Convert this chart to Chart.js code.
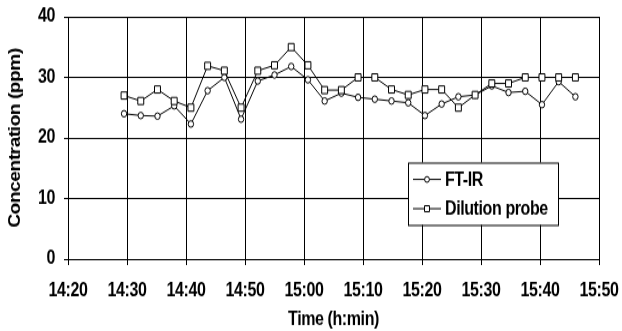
<!DOCTYPE html>
<html><head><meta charset="utf-8">
<script src="https://cdn.jsdelivr.net/npm/chart.js@4/dist/chart.umd.min.js"></script>
<style>
html,body{margin:0;padding:0;background:#fff;overflow:hidden}
#wrap{width:622px;height:331px;overflow:hidden;background:#fff}
#c{display:block;transform-origin:0 0;transform:scaleY(1.1993)}
</style></head><body>
<div id="wrap"><canvas id="c" width="622" height="276" style="width:622px;height:276px"></canvas></div>
<script>
// Sample times (h:mm:ss)
const times = ['14:29:30','14:32:20','14:35:10','14:38:00','14:40:50','14:43:40','14:46:30','14:49:20','14:52:10','14:55:00',
               '14:57:50','15:00:40','15:03:30','15:06:20','15:09:10','15:12:00','15:14:50','15:17:40','15:20:30','15:23:20',
               '15:26:10','15:29:00','15:31:50','15:34:40','15:37:30','15:40:20','15:43:10','15:46:00'];
// Concentration (ppm)
const ftir     = [24.0,23.7,23.6,25.3,22.3,27.8,30.0,23.1,29.4,30.4,
                  31.8,29.6,26.1,27.4,26.7,26.4,26.1,25.8,23.7,25.6,
                  26.8,27.1,28.6,27.5,27.7,25.5,29.3,26.8];
const dilution = [27.0,26.1,28.0,26.1,25.0,31.9,31.1,25.0,31.1,32.0,
                  35.0,32.0,27.9,27.9,30.0,30.0,28.0,27.1,28.0,28.0,
                  25.0,27.1,29.0,29.0,30.0,30.0,30.0,30.0];
const xRange = ['14:20','15:50'];
const xStepMin = 10;
const yRange = [0,40];
const yStep = 10;
const seriesNames = ['FT-IR','Dilution probe'];
const xTitle = 'Time (h:min)';
const yTitle = 'Concentration (ppm)';

const toMin = s => { const p = s.split(':').map(Number); return p[0]*60 + p[1] + (p[2]||0)/60; };
const fmt = v => { const h = Math.floor(v/60), m = Math.round(v - h*60); return h + ':' + String(m).padStart(2,'0'); };
const FONT = '"Liberation Sans", Arial, sans-serif';

const tightText = {
  id: 'tightText',
  beforeDraw(chart) { try { chart.ctx.letterSpacing = '-0.4px'; } catch(e) {} },
  afterDatasetsDraw(chart) { try { chart.ctx.letterSpacing = '-0.4px'; } catch(e) {} }
};

const legendPlugin = {
  id: 'boxLegend',
  afterDraw(chart) {
    const ctx = chart.ctx;
    const bx = 408, by = 135.5, bw = 150, bh = 52;
    ctx.save();
    ctx.fillStyle = '#fff';
    ctx.fillRect(bx, by, bw, bh);
    ctx.strokeStyle = '#000';
    ctx.lineWidth = 1;
    ctx.strokeRect(bx + 0.5, by + 0.5, bw, bh);
    const rows = [149.6, 174];
    chart.data.datasets.forEach((ds, i) => {
      const y = rows[i];
      ctx.beginPath();
      ctx.moveTo(413, y); ctx.lineTo(441, y);
      ctx.strokeStyle = '#000'; ctx.lineWidth = 1; ctx.stroke();
      ctx.fillStyle = '#fff'; ctx.strokeStyle = '#000';
      Chart.helpers.drawPoint(ctx, {pointStyle: ds.pointStyle, radius: i === 0 ? 2.4 : 3.5, borderWidth: 1}, 427, y);
      ctx.fillStyle = '#000';
      ctx.font = 'bold 16px ' + FONT;
      ctx.textBaseline = 'middle';
      ctx.textAlign = 'left';
      try { ctx.letterSpacing = '-0.4px'; } catch(e) {}
      ctx.fillText(ds.label, 445, y + 0.5);
    });
    ctx.restore();
  }
};

new Chart(document.getElementById('c'), {
  type: 'line',
  data: {
    datasets: [
      { label: seriesNames[0], data: times.map((t,i)=>({x: toMin(t), y: ftir[i]})),
        borderColor:'#000', borderWidth:1, pointStyle:'circle', pointRadius:2.7,
        pointBackgroundColor:'#fff', pointBorderColor:'#000', pointBorderWidth:1, tension:0, order:2 },
      { label: seriesNames[1], data: times.map((t,i)=>({x: toMin(t), y: dilution[i]})),
        borderColor:'#000', borderWidth:1, pointStyle:'rect', pointRadius:4.2,
        pointBackgroundColor:'#fff', pointBorderColor:'#000', pointBorderWidth:1, tension:0, order:1 }
    ]
  },
  options: {
    responsive: false,
    animation: false,
    devicePixelRatio: 1,
    layout: { padding: { top: 14, right: 23, left: 0, bottom: 0 } },
    plugins: { legend: { display: false }, tooltip: { enabled: false } },
    scales: {
      x: {
        type: 'linear',
        min: toMin(xRange[0]), max: toMin(xRange[1]),
        afterFit: s => { s.height = 60; s.paddingLeft = 0; s.paddingRight = 0; },
        ticks: { stepSize: xStepMin, callback: v => fmt(v), color:'#000', padding: 12,
                 maxRotation: 0, autoSkip: false, font: { family: FONT, weight: 'bold', size: 16 } },
        grid: { color:'#000', lineWidth:1, tickLength:5, drawTicks:true },
        border: { color:'#000', width:1 },
        title: { display:true, text:xTitle, color:'#000', padding:{top:0,bottom:-0.5},
                 font: { family: FONT, weight:'bold', size:16 } }
      },
      y: {
        min: yRange[0], max: yRange[1],
        afterFit: s => { s.width = 68; s.paddingTop = 0; s.paddingBottom = 0; },
        ticks: { stepSize: yStep, color:'#000', padding: 9, font: { family: FONT, weight:'bold', size:16 } },
        grid: { color:'#000', lineWidth:1, tickLength:4, drawTicks:true },
        border: { color:'#000', width:1 },
        title: { display:true, text:yTitle, color:'#000', padding:{top:5.5,bottom:0},
                 font: { family: FONT, weight:'bold', size:16 } }
      }
    }
  },
  plugins: [tightText, legendPlugin]
});
</script>
</body></html>
